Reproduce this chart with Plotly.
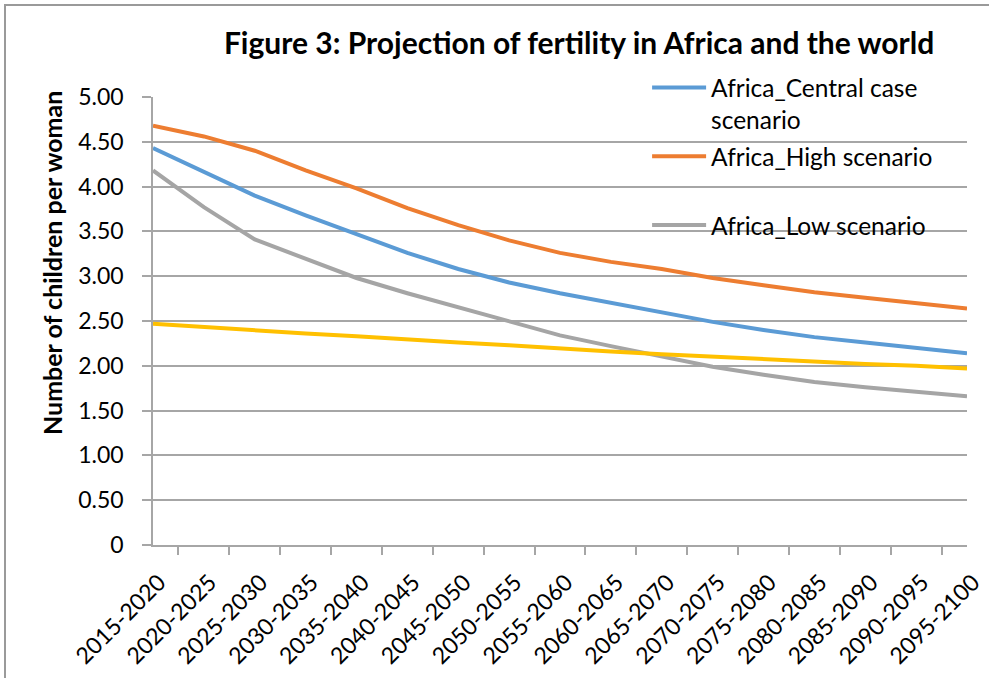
import plotly.graph_objects as go

# fertility projection data (children per woman)
periods = ['2015-2020', '2020-2025', '2025-2030', '2030-2035', '2035-2040', '2040-2045',
           '2045-2050', '2050-2055', '2055-2060', '2060-2065', '2065-2070', '2070-2075',
           '2075-2080', '2080-2085', '2085-2090', '2090-2095', '2095-2100']

africa_central = [4.43, 4.16, 3.90, 3.68, 3.47, 3.26, 3.08, 2.93, 2.81, 2.70, 2.59, 2.49, 2.40, 2.32, 2.26, 2.20, 2.14]
africa_high = [4.68, 4.56, 4.40, 4.18, 3.98, 3.76, 3.57, 3.40, 3.26, 3.16, 3.08, 2.98, 2.90, 2.82, 2.76, 2.70, 2.64]
africa_low = [4.18, 3.77, 3.41, 3.19, 2.98, 2.81, 2.65, 2.50, 2.34, 2.22, 2.11, 1.99, 1.90, 1.82, 1.76, 1.71, 1.66]
world = [2.47, 2.43, 2.39, 2.36, 2.33, 2.29, 2.26, 2.23, 2.19, 2.16, 2.13, 2.10, 2.07, 2.04, 2.02, 2.00, 1.97]

y_ticks = [0, 0.5, 1.0, 1.5, 2.0, 2.5, 3.0, 3.5, 4.0, 4.5, 5.0]
y_tick_text = ['0', '0.50', '1.00', '1.50', '2.00', '2.50', '3.00', '3.50', '4.00', '4.50', '5.00']

FONT = 'Lato, Noto Sans, sans-serif'
GRID = '#a6a6a6'

fig = go.Figure()

series = [
    ('Africa_Central case<br>scenario', africa_central, '#5b9bd5', True),
    ('Africa_High scenario<br>\u00a0', africa_high, '#ed7d31', True),
    ('Africa_Low scenario<br>\u00a0', africa_low, '#a5a5a5', True),
    ('World', world, '#ffc000', False),
]

for i, (name, vals, color, show) in enumerate(series):
    fig.add_trace(go.Scatter(
        x=periods,
        y=vals,
        mode='lines',
        name=name,
        legendgroup='g%d' % i,
        showlegend=show,
        line=dict(color=color, width=4),
    ))

fig.update_layout(
    width=989,
    height=678,
    plot_bgcolor='white',
    paper_bgcolor='white',
    font=dict(family=FONT, color='black', size=23),
    title=dict(
        text='<b>Figure 3: Projection of fertility in Africa and the world</b>',
        font=dict(family=FONT, size=30, color='black'),
        x=0.5855, xanchor='center', xref='container',
        y=1 - 43 / 678, yanchor='middle', yref='container',
    ),
    xaxis=dict(
        type='category',
        tickson='boundaries',
        ticks='outside',
        ticklen=8,
        tickwidth=1.5,
        tickcolor=GRID,
        tickangle=-45,
        tickfont=dict(size=23),
        ticklabelshift=6,
        ticklabelstandoff=13,
        showgrid=False,
        showline=True,
        linecolor=GRID,
        linewidth=1.5,
        zeroline=False,
        automargin=False,
    ),
    yaxis=dict(
        range=[0, 5],
        tickvals=y_ticks,
        ticktext=y_tick_text,
        ticks='outside',
        ticklen=9,
        tickwidth=1.5,
        tickcolor=GRID,
        tickfont=dict(size=23),
        ticklabelstandoff=14,
        showgrid=True,
        gridcolor=GRID,
        gridwidth=1.5,
        showline=True,
        linecolor=GRID,
        linewidth=1.5,
        zeroline=False,
        automargin=False,
    ),
    legend=dict(
        x=0.607, xanchor='left',
        y=1.071, yanchor='top',
        bgcolor='rgba(0,0,0,0)',
        font=dict(size=24.5),
        valign='top',
        traceorder='grouped',
        tracegroupgap=2,
        itemwidth=54,
    ),
    showlegend=True,
    margin=dict(l=153, r=22, t=97, b=133, autoexpand=False),
)

# y axis title placed like the original (shifted up)
fig.add_annotation(
    text='<b>Number of children per woman</b>',
    xref='paper', yref='paper',
    x=(52 - 153) / 814, y=(545 - 263) / 448,
    xanchor='center', yanchor='middle',
    textangle=-90,
    showarrow=False,
    font=dict(family=FONT, size=25, color='black'),
)

# page frame (top and left edges visible, rest runs off the page)
fig.add_shape(type='rect', xref='paper', yref='paper',
              x0=(5 - 153) / 814, x1=(1000 - 153) / 814,
              y0=(545 - 5) / 448, y1=(545 - 690) / 448,
              line=dict(color='#9a9a9a', width=2),
              fillcolor='rgba(0,0,0,0)', layer='below')

# drop the default page margin so the figure sits at the window corner
fig.write_html('out.html', config={'displayModeBar': False},
               post_script="document.body.style.margin='0';")
